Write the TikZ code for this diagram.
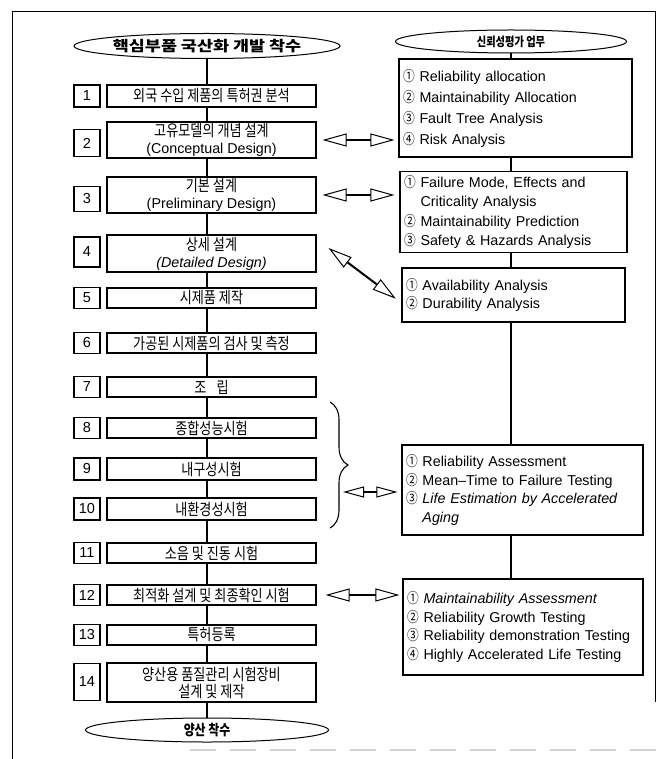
\documentclass[tikz,border=0pt]{standalone}
\usepackage{fontspec}
\setmainfont{Liberation Sans}
\newfontfamily\kr[FakeStretch=0.82]{Noto Sans CJK KR}
\newfontfamily\krwide[FakeStretch=1.2]{Noto Sans CJK KR}
\usetikzlibrary{shapes.geometric,arrows.meta,calc,decorations.pathreplacing}
\newcommand{\cn}[1]{{\kr #1}}
\newcommand{\lat}[1]{{\rmfamily\fontsize{14.3}{17}\selectfont #1}}

\begin{document}
\begin{tikzpicture}[x=1pt, y=-1pt,
  oval/.style={ellipse, draw, line width=1pt, fill=white, inner sep=0pt},
  num/.style={draw, line width=1.7pt, fill=white, minimum width=26pt, minimum height=#1, inner sep=0pt, font=\fontsize{14.5}{14.5}\selectfont},
  stage/.style={draw, line width=1.1pt, fill=white, minimum width=209pt, minimum height=#1, inner sep=1pt, align=center, font=\kr\fontsize{16}{17}\selectfont},
  task/.style={draw, line width=1.1pt, fill=white, inner sep=4pt, align=left, text width=#1, font=\fontsize{14.3}{19.5}\selectfont},
  link/.style={line width=1.8pt},
  dbl/.style={line width=2pt, {Triangle[open,length=24pt,width=13pt,line width=1pt]}-{Triangle[open,length=24pt,width=13pt,line width=1pt]}},
  dblsmall/.style={line width=2pt, {Triangle[open,length=21pt,width=11pt,line width=1pt]}-{Triangle[open,length=21pt,width=11pt,line width=1pt]}}]
  \useasboundingbox (0,0) rectangle (660,759);
  % frame
  \draw[line width=1pt] (12,759) -- (12,12) -- (655,12) -- (655,702);
  \draw[gray!35, line width=1.5pt, dash pattern=on 26pt off 14pt] (190,750) -- (660,750);

  % left column
  \node[oval, minimum width=250pt, minimum height=25pt, font=\krwide\bfseries\fontsize{14.5}{14.5}\selectfont] (top) at (207,46) {핵심부품 국산화 개발 착수};
  \node[num=22pt] (n1) at (87,96) {1};
  \node[stage=22pt] (b1) at (211.5,96) {외국 수입 제품의 특허권 분석};
  \node[num=27pt] (n2) at (87,143) {2};
  \node[stage=36pt] (b2) at (211.5,140) {고유모델의 개념 설계\\\lat{(Conceptual Design)}};
  \node[num=25pt] (n3) at (87,199) {3};
  \node[stage=36pt] (b3) at (211.5,195) {기본 설계\\\lat{(Preliminary Design)}};
  \node[num=30pt] (n4) at (87,252) {4};
  \node[stage=37pt] (b4) at (211.5,253.5) {상세 설계\\\lat{\textit{(Detailed Design)}}};
  \node[num=21pt] (n5) at (87,298) {5};
  \node[stage=20pt] (b5) at (211.5,298) {시제품 제작};
  \node[num=21pt] (n6) at (87,343) {6};
  \node[stage=20pt] (b6) at (211.5,343) {가공된 시제품의 검사 및 측정};
  \node[num=21pt] (n7) at (87,387) {7};
  \node[stage=20pt] (b7) at (211.5,387) {조\hspace{10pt}립};
  \node[num=21pt] (n8) at (87,428) {8};
  \node[stage=20pt] (b8) at (211.5,428) {종합성능시험};
  \node[num=22pt] (n9) at (87,469) {9};
  \node[stage=22pt] (b9) at (211.5,469) {내구성시험};
  \node[num=22pt] (n10) at (87,509) {10};
  \node[stage=22pt] (b10) at (211.5,509) {내환경성시험};
  \node[num=21pt] (n11) at (87,553) {11};
  \node[stage=20pt] (b11) at (211.5,553) {소음 및 진동 시험};
  \node[num=21pt] (n12) at (87,595) {12};
  \node[stage=20pt] (b12) at (211.5,595) {최적화 설계 및 최종확인 시험};
  \node[num=21pt] (n13) at (87,635) {13};
  \node[stage=20pt] (b13) at (211.5,635) {특허등록};
  \node[num=37pt] (n14) at (87,682) {14};
  \node[stage=39pt] (b14) at (211.5,682.5) {양산용 품질관리 시험장비\\설계 및 제작};
  \node[oval, minimum width=243pt, minimum height=24pt, font=\kr\bfseries\fontsize{14.5}{14.5}\selectfont] (bot) at (207,730) {양산 착수};

  \draw[link] (top.south) -- (top.south |- b1.north);
  \foreach \a/\b in {b1/b2, b2/b3, b3/b4, b4/b5, b5/b6, b6/b7, b7/b8, b8/b9, b9/b10, b10/b11, b11/b12, b12/b13, b13/b14}
    \draw[link] (\a.south -| top) -- (\b.north -| top);
  \draw[link] (b14.south -| top) -- (bot.north);

  % right column
  \node[oval, minimum width=231pt, minimum height=23pt, font=\kr\bfseries\fontsize{12.5}{12.5}\selectfont] (rtop) at (511,41.5) {신뢰성평가 업무};
  \node[task=225pt, minimum height=98pt, font=\fontsize{14.3}{21}\selectfont] (r1) at (515.5,108) {\cn{①} Reliability allocation\\\cn{②} Maintainability Allocation\\\cn{③} Fault Tree Analysis\\\cn{④} Risk Analysis};
  \node[task=219pt, minimum height=80pt] (r2) at (513.5,212) {\cn{①} Failure Mode, Effects and\\\hphantom{\cn{①} }Criticality Analysis\\\cn{②} Maintainability Prediction\\\cn{③} Safety \& Hazards Analysis};
  \node[task=215pt, minimum height=54pt, font=\fontsize{14.3}{18}\selectfont] (r3) at (513.5,295) {\cn{①} Availability Analysis\\\cn{②} Durability Analysis};
  \node[task=233pt, minimum height=90pt, font=\fontsize{14.3}{18.5}\selectfont] (r4) at (522.5,490) {\cn{①} Reliability Assessment\\\cn{②} Mean--Time to Failure Testing\\\cn{③} \textit{Life Estimation by Accelerated}\\\hphantom{\cn{①} }\textit{Aging}};
  \node[task=232pt, minimum height=96pt, font=\fontsize{14.3}{18.5}\selectfont] (r5) at (523,627) {\cn{①} \textit{Maintainability Assessment}\\\cn{②} Reliability Growth Testing\\\cn{③} Reliability demonstration Testing\\\cn{④} Highly Accelerated Life Testing};

  \draw[link] (rtop.south) -- (rtop.south |- r1.north);
  \foreach \a/\b in {r1/r2, r2/r3, r3/r4, r4/r5}
    \draw[link] (\a.south -| rtop) -- (\b.north -| rtop);

  % links between columns
  \draw[dbl, shorten <=6pt, shorten >=4pt] (b2.east) -- (b2.east -| r1.west);
  \draw[dbl, shorten <=6pt, shorten >=5pt] (b3.east) -- (b3.east -| r2.west);
  \draw[dbl, shorten <=15pt, shorten >=7pt] ($(b4.east)+(0,-14.5)$) -- ($(r3.west)+(0,8)$);
  \draw[decorate, decoration={brace, amplitude=18pt}, line width=1.1pt] (330,402) -- (330,528);
  \coordinate (brc) at (343,492);
  \draw[dblsmall, shorten >=4pt] (brc) -- (brc -| r4.west);
  \draw[dbl, shorten <=9pt, shorten >=3pt] (b12.east) -- (b12.east -| r5.west);
\end{tikzpicture}
\end{document}
